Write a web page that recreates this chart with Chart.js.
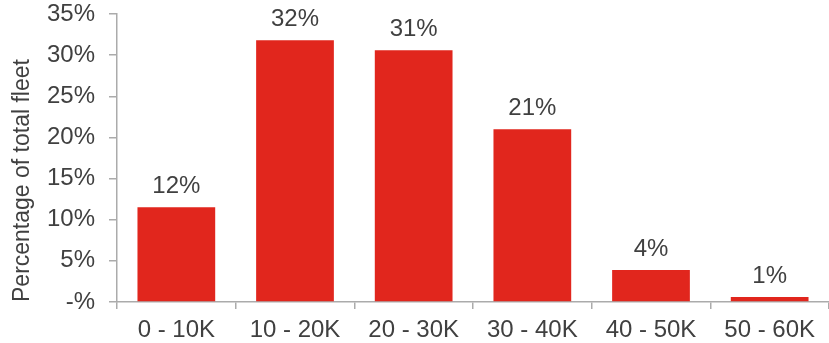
<!DOCTYPE html>
<html>
<head>
<meta charset="utf-8">
<script src="https://cdn.jsdelivr.net/npm/chart.js@4"></script>
<style>
  body { margin: 0; background: #fff; }
</style>
</head>
<body>
<canvas id="fleet-chart" width="829" height="343"></canvas>
<script>
// Fleet distribution by mileage band
const categories = ['0 - 10K', '10 - 20K', '20 - 30K', '30 - 40K', '40 - 50K', '50 - 60K'];
const fleetShare = [11.5, 31.8, 30.6, 21.0, 3.9, 0.6];
const yTicks = [0, 5, 10, 15, 20, 25, 30, 35];

const textColor = '#404040';
const axisColor = '#ababab';
const fontFamily = '"Liberation Sans", Arial, sans-serif';

// draws the percentage above each bar
const barLabels = {
    id: 'barLabels',
    afterDatasetsDraw: function(chart) {
        const ctx = chart.ctx;
        const meta = chart.getDatasetMeta(0);
        ctx.save();
        ctx.font = '24px ' + fontFamily;
        ctx.fillStyle = textColor;
        ctx.textAlign = 'center';
        ctx.textBaseline = 'middle';
        meta.data.forEach(function(bar, i) {
            ctx.fillText(Math.round(fleetShare[i]) + '%', bar.x, bar.y - 21);
        });
        ctx.restore();
    }
};

document.addEventListener('DOMContentLoaded', function() {
    const ctx = document.getElementById('fleet-chart').getContext('2d');
    new Chart(ctx, {
        type: 'bar',
        data: {
            labels: categories,
            datasets: [{
                label: 'Percentage of total fleet',
                data: fleetShare,
                backgroundColor: '#e1261d',
                categoryPercentage: 1,
                barPercentage: 0.655
            }]
        },
        plugins: [barLabels],
        options: {
            responsive: false,
            devicePixelRatio: 1,
            animation: false,
            layout: { padding: 0 },
            plugins: {
                legend: { display: false },
                tooltip: { enabled: false }
            },
            scales: {
                x: {
                    offset: true,
                    afterFit: function(scale) { scale.height = 41; },
                    grid: {
                        offset: true,
                        drawOnChartArea: false,
                        drawTicks: true,
                        tickLength: 7,
                        color: axisColor,
                        lineWidth: 1.5
                    },
                    border: { color: axisColor, width: 1.5 },
                    ticks: {
                        padding: 7,
                        color: textColor,
                        font: { family: fontFamily, size: 24 },
                        maxRotation: 0
                    }
                },
                y: {
                    min: 0,
                    max: 35,
                    afterFit: function(scale) {
                        scale.width = 117;
                        scale.paddingTop = 14;
                        scale.paddingBottom = 0;
                    },
                    afterBuildTicks: function(scale) {
                        scale.ticks = yTicks.map(function(v) { return { value: v }; });
                    },
                    grid: {
                        drawOnChartArea: false,
                        drawTicks: true,
                        tickLength: 8,
                        color: axisColor,
                        lineWidth: 1.5
                    },
                    border: { color: axisColor, width: 1.5 },
                    ticks: {
                        padding: 14,
                        color: textColor,
                        font: { family: fontFamily, size: 24 },
                        callback: function(v) { return v === 0 ? '-%' : v + '%'; }
                    },
                    title: {
                        display: true,
                        text: 'Percentage of total fleet',
                        align: 'start',
                        color: textColor,
                        font: { family: fontFamily, size: 23 },
                        padding: { top: 9, bottom: 0 }
                    }
                }
            }
        }
    });
});
</script>
</body>
</html>
